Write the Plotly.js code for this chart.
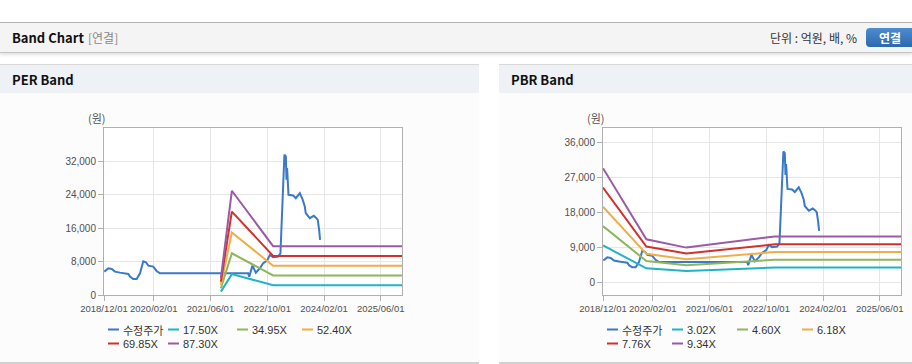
<!DOCTYPE html>
<html>
<head>
<meta charset="utf-8">
<script src="https://cdn.plot.ly/plotly-3.0.1.min.js"></script>
<style>
  html, body { margin:0; padding:0; background:#ffffff; width:912px; height:364px; overflow:hidden; position:relative; font-family:"Noto Sans CJK KR","Liberation Sans",sans-serif; }
  .topbar { position:absolute; left:0; top:22px; width:912px; height:29px; background:#f4f4f4; border-top:1px solid #b4b4b4; border-bottom:1px solid #c4c4c4; box-shadow:0 2px 3px rgba(0,0,0,0.12); }
  .topbar .ttl { position:absolute; left:12px; top:5px; font-size:13px; font-weight:bold; color:#111; }
  .topbar .sub { position:absolute; left:88px; top:6px; font-size:12px; color:#888; }
  .topbar .unit { position:absolute; left:770px; top:6px; font-size:12px; color:#333; }
  .topbar .btn { position:absolute; left:866px; top:5px; width:60px; height:19px; border-radius:4px; background:linear-gradient(#4d8ccf,#2d68ad); color:#fff; font-size:12px; font-weight:bold; line-height:19px; }
  .topbar .btn span { position:absolute; left:13px; top:0; }
  .panel { position:absolute; top:64px; height:297px; background:#fcfcfc; border-top:1px solid #d8d8d8; border-bottom:2px solid #d0d0d0; }
  .panel .hd { position:absolute; left:0; top:0; right:0; height:28px; background:#eef2f7; }
  .panel .hd span { position:absolute; left:12px; top:5px; font-size:13px; font-weight:bold; color:#111; }
  .chart { position:absolute; top:94px; height:268px; }
</style>
</head>
<body>
<div class="topbar">
  <div class="ttl">Band Chart</div>
  <div class="sub">[연결]</div>
  <div class="unit">단위 : 억원, 배, %</div>
  <div class="btn"><span>연결</span></div>
</div>
<div class="panel" style="left:0;width:479px;"><div class="hd"><span>PER Band</span></div></div>
<div class="panel" style="left:499px;width:413px;"><div class="hd"><span>PBR Band</span></div></div>
<div id="per" class="chart" style="left:0;width:478px;"></div>
<div id="pbr" class="chart" style="left:499px;width:413px;"></div>
<script>
// ---------- data ----------
const priceDates = ['2018-12-04','2019-01-07','2019-02-05','2019-03-05','2019-04-17','2019-05-30','2019-06-28','2019-07-12','2019-08-09','2019-09-07','2019-10-06','2019-11-03','2019-11-26','2019-12-16','2020-01-28','2020-02-25','2020-03-25','2022-04-21','2022-04-30','2022-05-28','2022-06-26','2022-07-30','2022-08-28','2022-10-01','2022-10-24','2022-11-21','2023-01-03','2023-01-23','2023-02-01','2023-02-15','2023-02-26','2023-03-10','2023-03-16','2023-03-21','2023-04-02','2023-05-12','2023-06-04','2023-07-08','2023-07-31','2023-08-20','2023-08-28','2023-10-02','2023-11-05','2023-11-28','2023-12-09','2023-12-21','2023-12-29'];
const priceValues = [5600,6400,6240,5600,5360,5200,5040,4400,3840,3840,5200,8080,7840,7040,6800,5760,5200,5200,4400,7040,5360,6400,7600,8240,9600,9040,9200,10000,15600,23600,33600,33200,27600,30400,24000,23840,23200,24400,22960,21200,19600,18400,18960,18400,18000,15600,13200];

const perDates = ['2021-08-30','2021-12-02','2022-11-21','2025-12-01'];
const perNames = ['17.50X','34.95X','52.40X','69.85X','87.30X'];
const per1750 = [805, 5005, 2345, 2345];
const per3495 = [1608, 9996, 4683, 4683];
const per5240 = [2410, 14986, 7022, 7022];
const per6985 = [3213, 19977, 9360, 9360];
const per8730 = [4016, 24968, 11698, 11698];

const pbrDates = ['2018-12-01','2019-12-08','2020-11-15','2021-05-06','2021-10-24','2022-04-14','2022-10-02','2022-12-13','2025-12-01'];
const pbrNames = ['3.02X','4.60X','6.18X','7.76X','9.34X'];
const pbr302 = [9480, 3576, 2881, 3105, 3298, 3521, 3715, 3796, 3796];
const pbr460 = [14439, 5446, 4388, 4729, 5023, 5364, 5658, 5782, 5782];
const pbr618 = [19399, 7317, 5896, 6353, 6749, 7206, 7601, 7768, 7768];
const pbr776 = [24359, 9188, 7403, 7977, 8474, 9048, 9545, 9754, 9754];
const pbr934 = [29318, 11059, 8910, 9602, 10199, 10890, 11488, 11740, 11740];

const xTicks = ['2018-12-01','2020-02-01','2021-06-01','2022-10-01','2024-02-01','2025-06-01'];
const perYTicks = [0, 8000, 16000, 24000, 32000];
const pbrYTicks = [0, 9000, 18000, 27000, 36000];
const priceName = '수정주가';
const yUnit = '(원)';

// ---------- style ----------
const colors = ['#3a78c9','#1fb3c6','#8fb65a','#f0ad47','#d3312d','#9a5aa5'];
const yTickFont = {family:'Liberation Sans, Arial, sans-serif', size:10, color:'#505050'};
const xTickFont = {family:'Liberation Sans, Arial, sans-serif', size:9.5, color:'#505050'};

function buildChart(div, bandDates, bandSeries, bandNames, yTicks, yRange, legendX) {
  const traces = [{x: priceDates, y: priceValues, name: priceName, mode:'lines', line:{color:colors[0], width:2}}];
  bandSeries.forEach((s, i) => traces.push({x: bandDates, y: s, name: bandNames[i], mode:'lines', line:{color:colors[i+1], width:2}}));
  const names = [priceName].concat(bandNames);
  const shapes = [], annotations = [];
  const rowY = [-34.5, -48.5];
  names.forEach((n, i) => {
    const row = i < 4 ? 0 : 1;
    const col = i < 4 ? i : i - 4;
    const sx = legendX[col];
    shapes.push({type:'line', xref:'paper', yref:'paper', xsizemode:'pixel', ysizemode:'pixel', xanchor:0, yanchor:0,
      x0:sx, x1:sx+11, y0:rowY[row], y1:rowY[row], line:{color:colors[i], width:2}});
    const fam = i === 0 ? 'Noto Sans CJK KR, sans-serif' : 'Liberation Sans, Noto Sans CJK KR, sans-serif';
    annotations.push({xref:'paper', yref:'paper', x:0, y:0, xshift:sx+13, yshift:rowY[row], xanchor:'left', yanchor:'middle',
      text:n, showarrow:false, font:{family:fam, size:11, color:'#333'}});
  });
  annotations.push({xref:'paper', yref:'paper', x:0, y:1, xshift:-7, yshift:10, xanchor:'center', yanchor:'middle',
    text:yUnit, showarrow:false, font:{family:'Noto Sans CJK KR, sans-serif', size:11, color:'#555'}});
  const layout = {
    width: div === 'per' ? 478 : 413, height: 268,
    margin:{l:104, r: div === 'per' ? 76 : 11, t:34, b:67},
    paper_bgcolor:'rgba(0,0,0,0)', plot_bgcolor:'#ffffff',
    showlegend:false,
    xaxis:{type:'date', range:['2018-12-01','2025-12-01'], tickvals:xTicks, tickformat:'%Y/%m/%d', tickangle:0,
      showgrid:true, gridcolor:'#e6e6e6', showline:true, linecolor:'#b0b0b0', mirror:true, ticks:'outside', ticklen:5, tickcolor:'#b0b0b0',
      tickfont:xTickFont, zeroline:false, fixedrange:true},
    yaxis:{range:yRange, tickvals:yTicks, tickformat:',d', showgrid:true, gridcolor:'#e6e6e6', showline:true, linecolor:'#b0b0b0', mirror:true,
      ticks:'outside', ticklen:5, tickcolor:'#b0b0b0', tickfont:yTickFont, zeroline:false, fixedrange:true},
    shapes: shapes, annotations: annotations
  };
  Plotly.newPlot(div, traces, layout, {staticPlot:true, displayModeBar:false});
}

buildChart('per', perDates, [per1750, per3495, per5240, per6985, per8730], perNames, perYTicks, [0, 40000], [4, 64, 133, 198]);
buildChart('pbr', pbrDates, [pbr302, pbr460, pbr618, pbr776, pbr934], pbrNames, pbrYTicks, [-3270, 39650], [4, 69, 134, 199]);
</script>
</body>
</html>
